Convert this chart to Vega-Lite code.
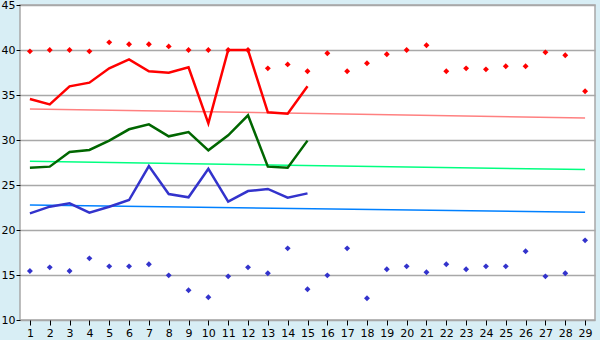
{
  "$schema": "https://vega.github.io/schema/vega-lite/v6.json",
  "width": 575,
  "height": 315,
  "autosize": {"type": "none"},
  "padding": {"left": 20, "top": 5, "right": 5, "bottom": 20},
  "background": "#D8EEF5",
  "config": {
    "view": {"fill": "#FFFFFF", "stroke": "#A8A8A8", "strokeWidth": 1.5},
    "axis": {"labelFont": "DejaVu Sans", "labelFontSize": 11, "labelColor": "#000000", "domainColor": "#A8A8A8", "tickColor": "#000000", "title": null}
  },
  "datasets": {
    "lines": [
      {"day": 1, "series": "max", "value": 34.56}, {"day": 2, "series": "max", "value": 33.96}, {"day": 3, "series": "max", "value": 35.96}, {"day": 4, "series": "max", "value": 36.37}, {"day": 5, "series": "max", "value": 37.96}, {"day": 6, "series": "max", "value": 38.96}, {"day": 7, "series": "max", "value": 37.63}, {"day": 8, "series": "max", "value": 37.48}, {"day": 9, "series": "max", "value": 38.07}, {"day": 10, "series": "max", "value": 31.85}, {"day": 11, "series": "max", "value": 40.0}, {"day": 12, "series": "max", "value": 40.0}, {"day": 13, "series": "max", "value": 33.07}, {"day": 14, "series": "max", "value": 32.93}, {"day": 15, "series": "max", "value": 35.96},
      {"day": 1, "series": "avg", "value": 26.93}, {"day": 2, "series": "avg", "value": 27.04}, {"day": 3, "series": "avg", "value": 28.67}, {"day": 4, "series": "avg", "value": 28.89}, {"day": 5, "series": "avg", "value": 29.93}, {"day": 6, "series": "avg", "value": 31.19}, {"day": 7, "series": "avg", "value": 31.74}, {"day": 8, "series": "avg", "value": 30.41}, {"day": 9, "series": "avg", "value": 30.89}, {"day": 10, "series": "avg", "value": 28.85}, {"day": 11, "series": "avg", "value": 30.52}, {"day": 12, "series": "avg", "value": 32.74}, {"day": 13, "series": "avg", "value": 27.04}, {"day": 14, "series": "avg", "value": 26.93}, {"day": 15, "series": "avg", "value": 29.93},
      {"day": 1, "series": "min", "value": 21.85}, {"day": 2, "series": "min", "value": 22.59}, {"day": 3, "series": "min", "value": 22.96}, {"day": 4, "series": "min", "value": 21.93}, {"day": 5, "series": "min", "value": 22.59}, {"day": 6, "series": "min", "value": 23.33}, {"day": 7, "series": "min", "value": 27.1}, {"day": 8, "series": "min", "value": 24.0}, {"day": 9, "series": "min", "value": 23.63}, {"day": 10, "series": "min", "value": 26.8}, {"day": 11, "series": "min", "value": 23.15}, {"day": 12, "series": "min", "value": 24.33}, {"day": 13, "series": "min", "value": 24.56}, {"day": 14, "series": "min", "value": 23.59}, {"day": 15, "series": "min", "value": 24.07}
    ],
    "trends": [
      {"day": 1, "series": "tmax", "value": 33.45}, {"day": 29, "series": "tmax", "value": 32.45},
      {"day": 1, "series": "tavg", "value": 27.63}, {"day": 29, "series": "tavg", "value": 26.72},
      {"day": 1, "series": "tmin", "value": 22.78}, {"day": 29, "series": "tmin", "value": 21.96}
    ],
    "points": [
      {"day": 1, "series": "hi", "value": 39.85}, {"day": 2, "series": "hi", "value": 40.0}, {"day": 3, "series": "hi", "value": 40.0}, {"day": 4, "series": "hi", "value": 39.85}, {"day": 5, "series": "hi", "value": 40.85}, {"day": 6, "series": "hi", "value": 40.63}, {"day": 7, "series": "hi", "value": 40.63}, {"day": 8, "series": "hi", "value": 40.4}, {"day": 9, "series": "hi", "value": 40.0}, {"day": 10, "series": "hi", "value": 40.0}, {"day": 11, "series": "hi", "value": 40.0}, {"day": 12, "series": "hi", "value": 40.0}, {"day": 13, "series": "hi", "value": 37.96}, {"day": 14, "series": "hi", "value": 38.4}, {"day": 15, "series": "hi", "value": 37.63}, {"day": 16, "series": "hi", "value": 39.63}, {"day": 17, "series": "hi", "value": 37.63}, {"day": 18, "series": "hi", "value": 38.52}, {"day": 19, "series": "hi", "value": 39.52}, {"day": 20, "series": "hi", "value": 40.0}, {"day": 21, "series": "hi", "value": 40.52}, {"day": 22, "series": "hi", "value": 37.63}, {"day": 23, "series": "hi", "value": 37.96}, {"day": 24, "series": "hi", "value": 37.85}, {"day": 25, "series": "hi", "value": 38.19}, {"day": 26, "series": "hi", "value": 38.19}, {"day": 27, "series": "hi", "value": 39.74}, {"day": 28, "series": "hi", "value": 39.41}, {"day": 29, "series": "hi", "value": 35.41},
      {"day": 1, "series": "lo", "value": 15.44}, {"day": 2, "series": "lo", "value": 15.85}, {"day": 3, "series": "lo", "value": 15.44}, {"day": 4, "series": "lo", "value": 16.85}, {"day": 5, "series": "lo", "value": 15.96}, {"day": 6, "series": "lo", "value": 15.96}, {"day": 7, "series": "lo", "value": 16.19}, {"day": 8, "series": "lo", "value": 14.96}, {"day": 9, "series": "lo", "value": 13.3}, {"day": 10, "series": "lo", "value": 12.52}, {"day": 11, "series": "lo", "value": 14.85}, {"day": 12, "series": "lo", "value": 15.85}, {"day": 13, "series": "lo", "value": 15.19}, {"day": 14, "series": "lo", "value": 17.96}, {"day": 15, "series": "lo", "value": 13.41}, {"day": 16, "series": "lo", "value": 14.96}, {"day": 17, "series": "lo", "value": 17.96}, {"day": 18, "series": "lo", "value": 12.41}, {"day": 19, "series": "lo", "value": 15.63}, {"day": 20, "series": "lo", "value": 15.96}, {"day": 21, "series": "lo", "value": 15.3}, {"day": 22, "series": "lo", "value": 16.19}, {"day": 23, "series": "lo", "value": 15.63}, {"day": 24, "series": "lo", "value": 15.96}, {"day": 25, "series": "lo", "value": 15.96}, {"day": 26, "series": "lo", "value": 17.63}, {"day": 27, "series": "lo", "value": 14.85}, {"day": 28, "series": "lo", "value": 15.19}, {"day": 29, "series": "lo", "value": 18.85}
    ]
  },
  "encoding": {
    "x": {"field": "day", "type": "quantitative", "scale": {"domain": [0.5, 29.5], "nice": false, "zero": false},
      "axis": {"values": [1,2,3,4,5,6,7,8,9,10,11,12,13,14,15,16,17,18,19,20,21,22,23,24,25,26,27,28,29], "grid": false, "tickSize": 5, "labelPadding": 2, "domain": false}},
    "y": {"field": "value", "type": "quantitative", "scale": {"domain": [10, 45], "nice": false, "zero": false},
      "axis": {"values": [10,15,20,25,30,35,40,45], "grid": true, "gridColor": "#A8A8A8", "gridWidth": 1.5, "tickSize": 4, "labelPadding": 1, "domain": false}},
    "color": {"field": "series", "type": "nominal", "legend": null,
      "scale": {"domain": ["max", "avg", "min", "tmax", "tavg", "tmin", "hi", "lo"],
        "range": ["#FF0000", "#006600", "#3333CC", "#FF8080", "#00FF80", "#0080FF", "#FF0000", "#3333CC"]}}
  },
  "layer": [
    {"data": {"name": "trends"}, "mark": {"type": "line", "strokeWidth": 1.5}},
    {"data": {"name": "points"}, "mark": {"type": "point", "shape": "diamond", "filled": true, "size": 35, "opacity": 1}},
    {"data": {"name": "lines"}, "mark": {"type": "line", "strokeWidth": 2.5}}
  ]
}
